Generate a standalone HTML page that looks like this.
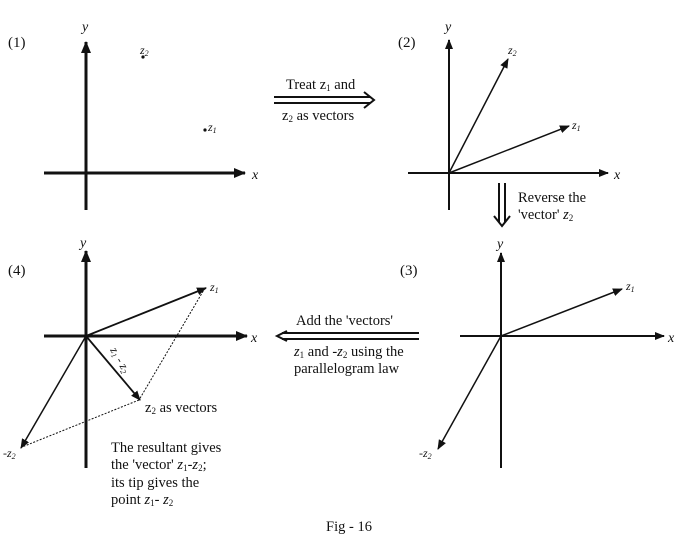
<!DOCTYPE html>
<html><head><meta charset="utf-8"><style>
html,body{margin:0;padding:0;background:#fff;}
svg{display:block;}
text{font-family:"Liberation Serif",serif;fill:#111;}
.i{font-style:italic;}
</style></head><body>
<svg width="699" height="549" viewBox="0 0 699 549" xmlns="http://www.w3.org/2000/svg">
<defs>
<marker id="a" markerWidth="10" markerHeight="8" refX="9" refY="4" orient="auto" markerUnits="userSpaceOnUse"><path d="M0,0 L10,4 L0,8 z" fill="#111"/></marker>
<marker id="b" markerWidth="12" markerHeight="10" refX="11" refY="5" orient="auto" markerUnits="userSpaceOnUse"><path d="M0,0 L12,5 L0,10 z" fill="#111"/></marker>
</defs>
<g stroke="#111" fill="none">
<line x1="86" y1="210" x2="86" y2="42" stroke-width="3" marker-end="url(#b)"/>
<line x1="44" y1="173" x2="245" y2="173" stroke-width="3" marker-end="url(#b)"/>
<line x1="449" y1="210" x2="449" y2="40" stroke-width="2" marker-end="url(#a)"/>
<line x1="408" y1="173" x2="608" y2="173" stroke-width="2" marker-end="url(#a)"/>
<line x1="449" y1="173" x2="508" y2="59" stroke-width="1.5" marker-end="url(#a)"/>
<line x1="449" y1="173" x2="569" y2="126" stroke-width="1.5" marker-end="url(#a)"/>
<line x1="501" y1="468" x2="501" y2="253" stroke-width="2" marker-end="url(#a)"/>
<line x1="460" y1="336" x2="664" y2="336" stroke-width="2" marker-end="url(#a)"/>
<line x1="501" y1="336" x2="622" y2="289" stroke-width="1.5" marker-end="url(#a)"/>
<line x1="501" y1="336" x2="438" y2="449" stroke-width="1.5" marker-end="url(#a)"/>
<line x1="86" y1="468" x2="86" y2="251" stroke-width="3" marker-end="url(#b)"/>
<line x1="44" y1="336" x2="247" y2="336" stroke-width="3" marker-end="url(#b)"/>
<line x1="86" y1="336" x2="206" y2="288" stroke-width="1.8" marker-end="url(#a)"/>
<line x1="86" y1="336" x2="21" y2="448" stroke-width="1.5" marker-end="url(#a)"/>
<line x1="86" y1="336" x2="140" y2="400" stroke-width="1.8" marker-end="url(#a)"/>
<line x1="205" y1="288" x2="139" y2="400" stroke-width="1" stroke-dasharray="2,1.5"/>
<line x1="139" y1="400" x2="22" y2="447" stroke-width="1" stroke-dasharray="2,1.5"/>
<line x1="274" y1="97" x2="370" y2="97" stroke-width="2"/>
<line x1="274" y1="103" x2="370" y2="103" stroke-width="2"/>
<path d="M364,92 L374,100 L364,108" stroke-width="2"/>
<line x1="499" y1="183" x2="499" y2="222" stroke-width="2"/>
<line x1="505" y1="183" x2="505" y2="222" stroke-width="2"/>
<path d="M494,216 L502,226 L510,216" stroke-width="2"/>
<line x1="282" y1="333" x2="419" y2="333" stroke-width="2"/>
<line x1="282" y1="339" x2="419" y2="339" stroke-width="2"/>
<path d="M287,331 L277,336 L287,341" stroke-width="2"/>
</g>
<circle cx="143" cy="57" r="1.6" fill="#111"/>
<circle cx="205" cy="130" r="1.6" fill="#111"/>
<g font-size="15">
<text x="8" y="47">(1)</text>
<text x="398" y="47">(2)</text>
<text x="400" y="275">(3)</text>
<text x="8" y="275">(4)</text>
</g>
<g font-size="14">
<text class="i" x="82" y="31">y</text>
<text class="i" x="252" y="179">x</text>
<text class="i" x="445" y="31">y</text>
<text class="i" x="614" y="179">x</text>
<text class="i" x="497" y="248">y</text>
<text class="i" x="668" y="342">x</text>
<text class="i" x="80" y="247">y</text>
<text class="i" x="251" y="342">x</text>
</g>
<g font-size="12">
<text class="i" x="140" y="54">z<tspan font-size="8" dy="2">2</tspan></text>
<text class="i" x="208" y="131">z<tspan font-size="8" dy="2">1</tspan></text>
<text class="i" x="508" y="54">z<tspan font-size="8" dy="2">2</tspan></text>
<text class="i" x="572" y="129">z<tspan font-size="8" dy="2">1</tspan></text>
<text class="i" x="626" y="290">z<tspan font-size="8" dy="2">1</tspan></text>
<text class="i" x="419" y="457">-z<tspan font-size="8" dy="2">2</tspan></text>
<text class="i" x="210" y="291">z<tspan font-size="8" dy="2">1</tspan></text>
<text class="i" x="3" y="457">-z<tspan font-size="8" dy="2">2</tspan></text>
<text class="i" x="0" y="0" transform="translate(110,350) rotate(60)">z<tspan font-size="8" dy="2">1</tspan><tspan dy="-2"> - z</tspan><tspan font-size="8" dy="2">2</tspan></text>
</g>
<g font-size="14.5">
<text x="286" y="89">Treat z<tspan font-size="9" dy="2">1</tspan><tspan dy="-2"> and</tspan></text>
<text x="282" y="120">z<tspan font-size="9" dy="2">2</tspan><tspan dy="-2"> as vectors</tspan></text>
<text x="518" y="202">Reverse the</text>
<text x="518" y="219">'vector' <tspan class="i">z</tspan><tspan font-size="9" dy="2">2</tspan></text>
<text x="296" y="325">Add the 'vectors'</text>
<text x="294" y="356"><tspan class="i">z</tspan><tspan font-size="9" dy="2">1</tspan><tspan dy="-2"> and -</tspan><tspan class="i">z</tspan><tspan font-size="9" dy="2">2</tspan><tspan dy="-2"> using the</tspan></text>
<text x="294" y="373">parallelogram law</text>
<text x="145" y="412">z<tspan font-size="9" dy="2">2</tspan><tspan dy="-2"> as vectors</tspan></text>
<text x="111" y="452">The resultant gives</text>
<text x="111" y="469">the 'vector' <tspan class="i">z</tspan><tspan font-size="9" dy="2">1</tspan><tspan dy="-2">-</tspan><tspan class="i">z</tspan><tspan font-size="9" dy="2">2</tspan><tspan dy="-2">;</tspan></text>
<text x="111" y="487">its tip gives the</text>
<text x="111" y="504">point <tspan class="i">z</tspan><tspan font-size="9" dy="2">1</tspan><tspan dy="-2">- </tspan><tspan class="i">z</tspan><tspan font-size="9" dy="2">2</tspan></text>
<text x="349" y="531" text-anchor="middle">Fig - 16</text>
</g>
</svg>
</body></html>
